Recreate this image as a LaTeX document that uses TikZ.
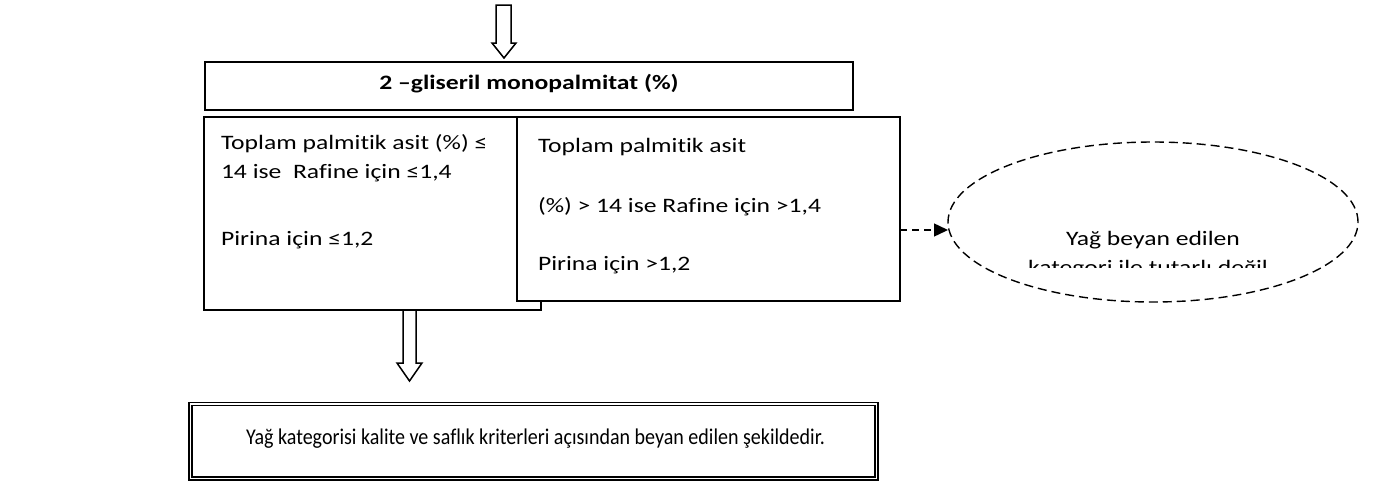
\documentclass[tikz,border=0pt]{standalone}
\usepackage{fontspec}
\setmainfont{Carlito}[FakeStretch=1.25,Ligatures=NoCommon]
\newfontfamily\plainfont{Carlito}[FakeStretch=0.89,Ligatures=NoCommon]
\usetikzlibrary{arrows.meta,shapes.geometric,calc}
\begin{document}
\begin{tikzpicture}[x=1pt,y=-1pt,
  font=\fontsize{20.5}{29}\selectfont,
  boxnode/.style={draw,line width=2.1pt,fill=white,inner sep=0pt,outer sep=0pt},
  txt/.style={anchor=base west,inner sep=0pt,outer sep=0pt},
  hollow/.style={draw,line width=1.5pt,fill=white,line join=miter},
  dash1/.style={line width=1.4pt,dash pattern=on 9pt off 5pt}]
\useasboundingbox (0,0) rectangle (1376,485);
% top hollow arrow
\draw[hollow] (496,5) -- (511,5) -- (511,43) -- (516,43) -- (504,58) -- (492,43) -- (496,43) -- cycle;
% title box
\node[boxnode,minimum width=648,minimum height=48] (top) at (529,86) {};
\node[anchor=base,inner sep=0pt] (toptxt) at (529,89) {\bfseries 2 –gliseril monopalmitat (\%)};
% left box
\node[boxnode,minimum width=337,minimum height=193] (lb) at (372.5,213.5) {};
\node[txt] (l1) at (221,149) {Toplam palmitik asit (\%) ≤};
\node[txt] (l2) at (221,178) {14 ise\ \ Rafine için ≤1,4};
\node[txt] (l3) at (221,245) {Pirina için ≤1,2};
% right box
\node[boxnode,minimum width=383,minimum height=184] (rb) at (708.5,209) {};
\node[txt] (r1) at (538,152) {Toplam palmitik asit};
\node[txt] (r2) at (538,212) {(\%) > 14 ise Rafine için >1,4};
\node[txt] (r3) at (538,270) {Pirina için >1,2};
% ellipse
\node[draw,ellipse,dash1,minimum width=410,minimum height=160,inner sep=0pt,outer sep=0pt] (ell) at (1153,222) {};
\node[anchor=base,inner sep=0pt] (e1) at (1153,245) {Yağ beyan edilen};
\begin{scope}
\clip (950,100) rectangle (1360,267);
\node[anchor=base,inner sep=0pt] (e2) at (1148,274) {kategori ile tutarlı değil};
\end{scope}
% dashed arrow
\coordinate (da) at (rb.east |- 0,230);
\draw[line width=1.4pt,dash pattern=on 7pt off 5pt,-{Triangle[length=14pt,width=13pt]}] (da) -- (da -| ell.west);
% bottom hollow arrow
\draw[hollow] (403,310) -- (416,310) -- (416,363) -- (422,363) -- (409.5,381) -- (397,363) -- (403,363) -- cycle;
% bottom box
\node[draw,double,line width=1.5pt,double distance=1.8pt,inner sep=0pt,outer sep=0pt,minimum width=686,minimum height=74.5] (bb) at (533.5,441.25) {};
\node[anchor=base,inner sep=0pt,font=\plainfont\fontsize{22.5}{29}\selectfont] (bt) at (535.5,444) {Yağ kategorisi kalite ve saflık kriterleri açısından beyan edilen şekildedir.};
\end{tikzpicture}
\end{document}
